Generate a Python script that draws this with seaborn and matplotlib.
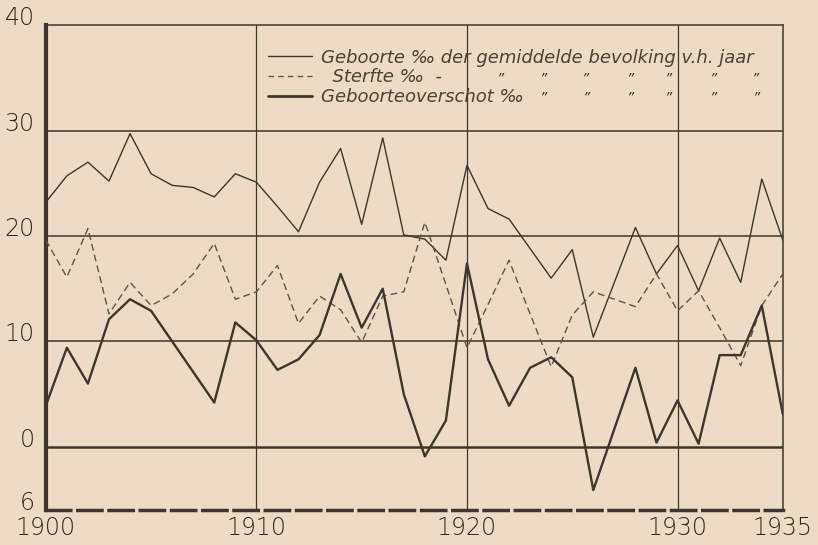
import numpy as np
import pandas as pd
import matplotlib
matplotlib.use("Agg")
import matplotlib.pyplot as plt
import seaborn as sns
from matplotlib.lines import Line2D

# Data (per mille, 1900-1935)
years = list(range(1900, 1936))
geboorte = [23.2, 25.7, 27.0, 25.2, 29.7, 25.9, 24.8, 24.6, 23.7, 25.9,
            25.1, 22.8, 20.4, 25.1, 28.3, 21.1, 29.3, 20.1, 19.7, 17.7,
            26.7, 22.6, 21.6, 18.8, 16.0, 18.7, 10.4, 15.6, 20.8, 16.4,
            19.1, 14.8, 19.8, 15.6, 25.4, 19.6]
sterfte = [19.6, 16.1, 20.7, 12.6, 15.6, 13.4, 14.5, 16.4, 19.3, 14.0,
           14.7, 17.2, 11.7, 14.3, 13.0, 9.9, 14.3, 14.7, 21.3, 15.4,
           9.4, 13.5, 17.7, 12.6, 7.6, 12.5, 14.7, 14.0, 13.3, 16.4,
           12.9, 14.8, 11.3, 7.7, 13.4, 16.4]
overschot = [3.9, 9.4, 6.0, 12.1, 14.0, 12.9, 10.0, 7.1, 4.2, 11.8,
             10.1, 7.3, 8.3, 10.6, 16.4, 11.3, 15.0, 5.0, -0.9, 2.5,
             17.4, 8.3, 3.9, 7.5, 8.5, 6.6, -4.1, 1.7, 7.5, 0.4,
             4.4, 0.3, 8.7, 8.7, 13.4, 3.1]

yticks = [-6, 0, 10, 20, 30, 40]
ytick_labels = ["6", "0", "10", "20", "30", "40"]
xticks = [1900, 1910, 1920, 1930, 1935]

df = pd.DataFrame({"jaar": years, "geboorte": geboorte,
                   "sterfte": sterfte, "overschot": overschot})

paper = "#ecdcc6"
ink = "#3e362e"

sns.set_style("white")
plt.rcParams["font.family"] = ["DejaVu Sans"]

fig = plt.figure(figsize=(8.18, 5.45), dpi=100, facecolor=paper)
ax = fig.add_axes([0.056, 0.064, 0.901, 0.890])
ax.set_facecolor(paper)

# grid
for v in [10, 20, 30]:
    ax.axhline(v, color=ink, lw=1.1, zorder=1)
ax.axhline(0, color=ink, lw=1.8, zorder=1)
for v in [1910, 1920, 1930]:
    ax.axvline(v, color=ink, lw=0.9, zorder=1)

sns.lineplot(data=df, x="jaar", y="geboorte", color=ink, lw=1.0, ax=ax, zorder=3)
sns.lineplot(data=df, x="jaar", y="sterfte", color="#5e544a", lw=1.0,
             linestyle=(0, (5, 3)), ax=ax, zorder=3)
sns.lineplot(data=df, x="jaar", y="overschot", color=ink, lw=1.7, ax=ax, zorder=4)

ax.set_xlim(1900, 1935)
ax.set_ylim(-6, 40)
ax.set_xticks(xticks)
ax.set_xticklabels([str(x) for x in xticks])
ax.set_yticks(yticks)
ax.set_yticklabels(ytick_labels)
ax.set_xlabel("")
ax.set_ylabel("")
ax.tick_params(length=0, labelsize=17, colors="#2e2720")
ax.tick_params(axis="x", pad=4)
ax.tick_params(axis="y", pad=8)
for lab in ax.get_yticklabels():
    lab.set_verticalalignment("baseline")
    lab.set_fontweight("light")
for lab in ax.get_xticklabels():
    lab.set_fontweight("light")

for s in ["top", "right"]:
    ax.spines[s].set_color(ink)
    ax.spines[s].set_linewidth(1.1)
ax.spines["left"].set_color(ink)
ax.spines["left"].set_linewidth(3.0)
ax.spines["bottom"].set_color(ink)
ax.spines["bottom"].set_linewidth(2.5)
ax.spines["bottom"].set_linestyle((0, (7, 2)))

# legend
handles = [Line2D([], [], color=ink, lw=1.0),
           Line2D([], [], color="#5e544a", lw=1.0, linestyle=(0, (4, 3))),
           Line2D([], [], color=ink, lw=2.0)]
labels = ["Geboorte \u2030 der gemiddelde bevolking v.h. jaar",
          "  Sterfte \u2030  -",
          "Geboorteoverschot \u2030"]
leg = ax.legend(handles, labels, loc="upper left", bbox_to_anchor=(0.28, 0.985),
                frameon=False, handlelength=2.4, handletextpad=0.5,
                labelspacing=0.1, prop={"size": 13, "style": "italic"})
for t in leg.get_texts():
    t.set_color("#4a4138")

# ditto marks (pixel columns in the reference)
def fx(px):
    return (px - 46) / 737

def fy(py):
    return 1 - (py - 25) / 485

for px in [500, 543, 585, 630, 668, 713, 755]:
    ax.text(fx(px), fy(78), "\u201d", transform=ax.transAxes, ha="center",
            va="center", fontsize=10, color=ink, style="italic")
for px in [543, 586, 630, 668, 713, 756]:
    ax.text(fx(px), fy(97), "\u201d", transform=ax.transAxes, ha="center",
            va="center", fontsize=10, color=ink, style="italic")

fig.savefig("out.png", dpi=100, facecolor=paper)
